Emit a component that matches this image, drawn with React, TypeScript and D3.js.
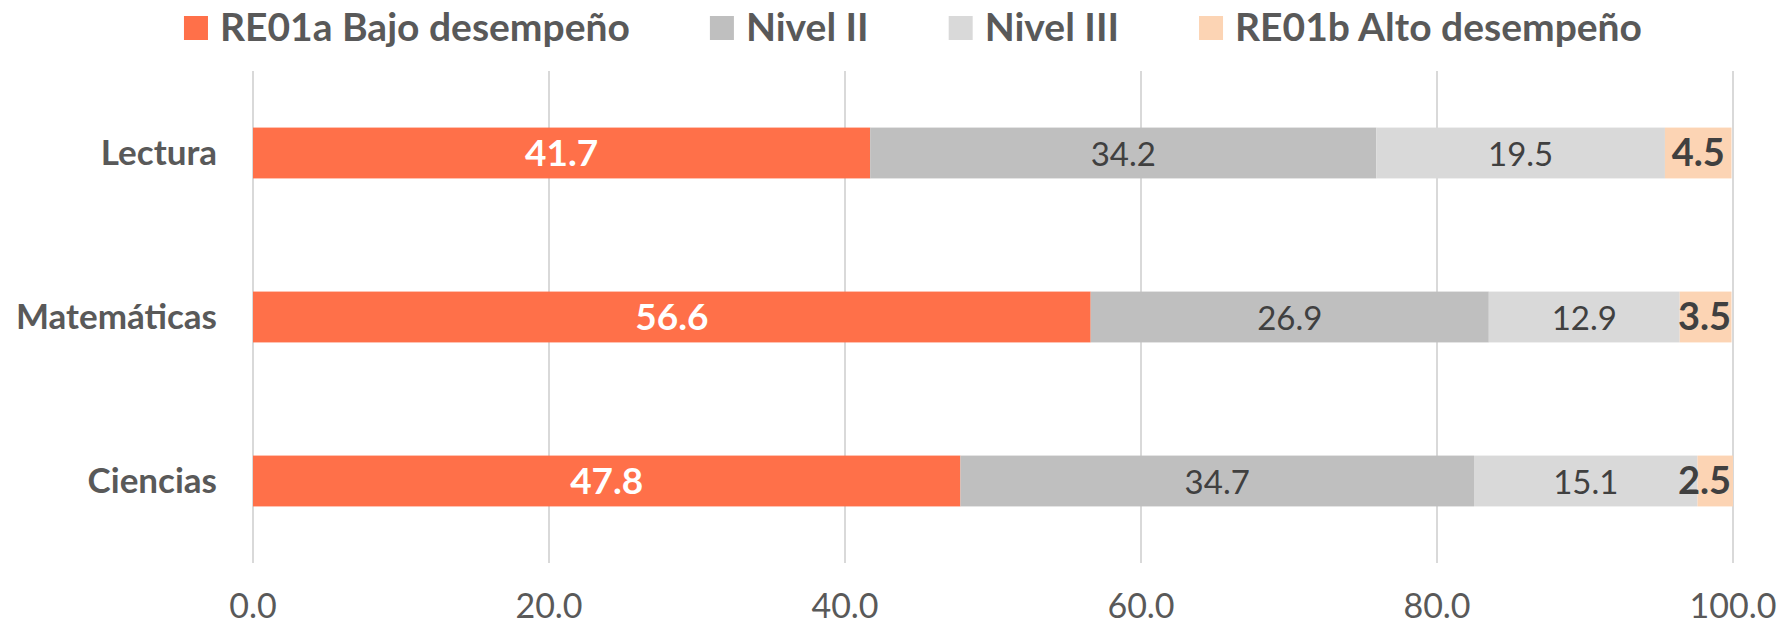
import React, { useEffect, useRef } from "react";
import * as d3 from "d3";

const categories = ["Lectura", "Matemáticas", "Ciencias"];
const seriesNames = ["RE01a Bajo desempeño", "Nivel II", "Nivel III", "RE01b Alto desempeño"];
const bajo = [41.7, 56.6, 47.8];
const nivel2 = [34.2, 26.9, 34.7];
const nivel3 = [19.5, 12.9, 15.1];
const alto = [4.5, 3.5, 2.5];
const xTicks = [0, 20, 40, 60, 80, 100];

const colors = ["#FF7049", "#BFBFBF", "#D9D9D9", "#FCD4B4"];
const labelColors = ["#FFFFFF", "#404040", "#404040", "#404040"];
const labelWeights = ["bold", "normal", "normal", "bold"];
const labelSizes = [37, 33, 33, 38];

const W = 1779;
const H = 626;
const FONT = "Lato, 'Open Sans', sans-serif";

export default function App() {
  const ref = useRef<SVGSVGElement | null>(null);

  useEffect(() => {
    const svg = d3.select(ref.current);
    svg.selectAll("*").remove();

    const left = 253;
    const right = 1733;
    const top = 71;
    const bottom = 563;

    const x = d3.scaleLinear().domain([0, 100]).range([left, right]);
    const y = d3
      .scaleBand<string>()
      .domain(categories)
      .range([top, bottom])
      .paddingInner(0.69)
      .paddingOuter(0.345);

    // gridlines
    svg
      .append("g")
      .selectAll("line")
      .data(xTicks)
      .join("line")
      .attr("x1", (d) => x(d))
      .attr("x2", (d) => x(d))
      .attr("y1", top)
      .attr("y2", bottom)
      .attr("stroke", "#D9D9D9")
      .attr("stroke-width", 2);

    // tick labels
    svg
      .append("g")
      .selectAll("text")
      .data(xTicks)
      .join("text")
      .attr("x", (d) => x(d))
      .attr("y", 618)
      .attr("text-anchor", "middle")
      .attr("font-family", FONT)
      .attr("font-size", 34)
      .attr("fill", "#595959")
      .text((d) => d3.format(".1f")(d));

    // category labels
    svg
      .append("g")
      .selectAll("text")
      .data(categories)
      .join("text")
      .attr("x", 217)
      .attr("y", (d) => (y(d) as number) + y.bandwidth() / 2 + 12)
      .attr("text-anchor", "end")
      .attr("font-family", FONT)
      .attr("font-weight", "bold")
      .attr("font-size", 35)
      .attr("fill", "#595959")
      .text((d) => d);

    const seriesData = [bajo, nivel2, nivel3, alto];
    const rows = categories.map((c, i) => {
      const r: any = { cat: c };
      seriesNames.forEach((s, j) => (r[s] = seriesData[j][i]));
      return r;
    });
    const stack = d3.stack<any>().keys(seriesNames)(rows);

    stack.forEach((layer, si) => {
      const g = svg.append("g");
      g.selectAll("rect")
        .data(layer)
        .join("rect")
        .attr("x", (d) => x(d[0]))
        .attr("width", (d) => x(Math.min(d[1], 100)) - x(d[0]))
        .attr("y", (d) => y(d.data.cat) as number)
        .attr("height", y.bandwidth())
        .attr("fill", colors[si]);

      const labels = g
        .selectAll("text")
        .data(layer)
        .join("text")
        .attr("y", (d) => (y(d.data.cat) as number) + y.bandwidth() / 2 + 13)
        .attr("font-family", FONT)
        .attr("font-weight", labelWeights[si])
        .attr("font-size", labelSizes[si])
        .attr("fill", labelColors[si])
        .attr("text-anchor", "middle")
        .text((d) => d3.format(".1f")(d[1] - d[0]));

      labels.each(function (d) {
        const el = this as SVGTextElement;
        const w = el.getComputedTextLength();
        let cx = (x(d[0]) + x(Math.min(d[1], 100))) / 2;
        if (cx + w / 2 > right - 2) cx = right - 2 - w / 2;
        d3.select(el).attr("x", cx);
      });
    });

    // legend
    const lg = svg.append("g");
    const items = seriesNames.map((name, i) => {
      const t = lg
        .append("text")
        .attr("font-family", FONT)
        .attr("font-weight", "bold")
        .attr("font-size", 39)
        .attr("fill", "#595959")
        .attr("y", 41)
        .text(name);
      const w = (t.node() as SVGTextElement).getComputedTextLength();
      return { t, w, i };
    });
    const sq = 24;
    const gap1 = 12;
    const gap2 = 80;
    const total = items.reduce((s, it) => s + sq + gap1 + it.w, 0) + gap2 * (items.length - 1);
    let cur = 913 - total / 2;
    items.forEach((it) => {
      lg.append("rect")
        .attr("x", cur)
        .attr("y", 16)
        .attr("width", sq)
        .attr("height", sq)
        .attr("fill", colors[it.i]);
      it.t.attr("x", cur + sq + gap1);
      cur += sq + gap1 + it.w + gap2;
    });
  }, []);

  return (
    <svg
      ref={ref}
      width={W}
      height={H}
      style={{ position: "absolute", left: 0, top: 0, background: "#fff" }}
    />
  );
}
